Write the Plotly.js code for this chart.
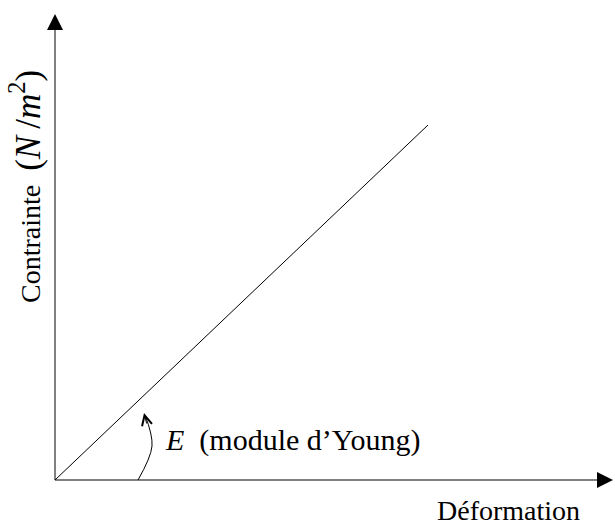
<!DOCTYPE html>
<html>
<head>
<meta charset="utf-8">
<script src="https://cdn.plot.ly/plotly-3.0.1.min.js"></script>
<style>html,body{margin:0;padding:0;background:#fff;}#chart{width:615px;height:527px;}</style>
</head>
<body>
<div id="chart"></div>
<script>
// Stress-strain line (arbitrary units, origin at 0)
var strain = [0, 373];
var stress = [0, 355];
// Curved arrow marking the slope E
var arcX = [83, 97, 90];
var arcY = [0, 34, 65];
// Axis extents
var xAxisEnd = 558;
var yAxisEnd = 466;
var xLabel = 'Déformation';
var yLabel = 'Contrainte\u00a0\u00a0<span style="font-size:35px">(<i>N</i>\u2009/<i>m</i><sup>2</sup>)</span>';
var slopeLabel = '<i>E</i>  (module d’Young)';

var font = 'Liberation Serif, Times New Roman, serif';

var traces = [
  {x: [0, xAxisEnd - 8], y: [0, 0], mode: 'lines', line: {color: '#808080', width: 2}, hoverinfo: 'skip'},
  {x: [0, 0], y: [0, yAxisEnd - 8], mode: 'lines', line: {color: '#808080', width: 2}, hoverinfo: 'skip'},
  {x: strain, y: stress, mode: 'lines', line: {color: '#000', width: 1}, hoverinfo: 'skip'},
  {x: arcX, y: arcY, mode: 'lines', line: {color: '#000', width: 1, shape: 'spline'}, hoverinfo: 'skip'}
];

var annotations = [
  {x: xAxisEnd, y: 0, ax: xAxisEnd - 12, ay: 0, xref: 'x', yref: 'y', axref: 'x', ayref: 'y',
   showarrow: true, arrowhead: 2, arrowsize: 1.6, arrowwidth: 2, arrowcolor: '#000', text: ''},
  {x: 0, y: yAxisEnd, ax: 0, ay: yAxisEnd - 12, xref: 'x', yref: 'y', axref: 'x', ayref: 'y',
   showarrow: true, arrowhead: 2, arrowsize: 1.6, arrowwidth: 2, arrowcolor: '#000', text: ''},
  {x: arcX[2] - 1, y: arcY[2] + 2, ax: arcX[2] + 2, ay: arcY[2] - 10, xref: 'x', yref: 'y', axref: 'x', ayref: 'y',
   showarrow: true, arrowhead: 5, arrowsize: 2, arrowwidth: 1, arrowcolor: '#000', text: ''},
  {x: 108, y: 40, xref: 'x', yref: 'y', xanchor: 'left', yanchor: 'middle', showarrow: false,
   text: slopeLabel, font: {family: font, size: 30, color: '#000'}},
  {x: 453, y: -30, xref: 'x', yref: 'y', xanchor: 'center', yanchor: 'middle', showarrow: false,
   text: xLabel, font: {family: font, size: 28, color: '#000'}},
  {x: -30, y: 293, xref: 'x', yref: 'y', xanchor: 'center', yanchor: 'middle', showarrow: false, textangle: -90,
   text: yLabel, font: {family: font, size: 28, color: '#000'}}
];

var layout = {
  width: 615, height: 527,
  margin: {l: 0, r: 0, t: 0, b: 0},
  paper_bgcolor: '#fff', plot_bgcolor: '#fff',
  showlegend: false,
  xaxis: {range: [-55, 560], visible: false, fixedrange: true},
  yaxis: {range: [-47, 480], visible: false, fixedrange: true},
  annotations: annotations
};

Plotly.newPlot('chart', traces, layout, {displayModeBar: false, staticPlot: true});
</script>
</body>
</html>
